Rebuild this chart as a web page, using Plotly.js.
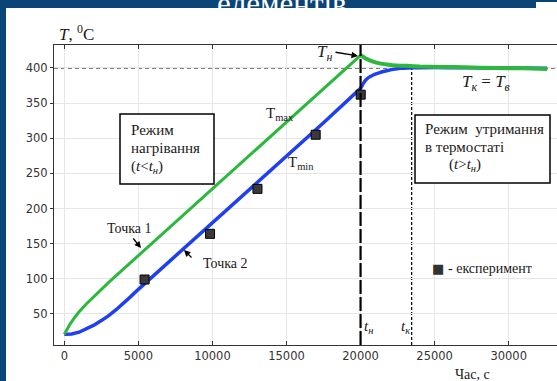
<!DOCTYPE html>
<html>
<head>
<meta charset="utf-8">
<script src="https://cdn.plot.ly/plotly-3.0.1.min.js"></script>
<style>
html,body{margin:0;padding:0;background:#0b4477;}
#chart{width:557px;height:381px;}
</style>
</head>
<body>
<div id="chart"></div>
<script>
// ---- data ----
const tHeat = [0, 200, 400, 700, 1000, 1500, 2000, 2500, 3000, 3500, 4000, 5000, 7500, 10000, 12500, 15000, 17500, 20000];
const tMaxHeat = [21, 29, 36, 45, 53, 64.5, 75, 85, 95, 104.5, 114, 133, 180.5, 228, 275.5, 323, 370.5, 418];
const tBlueHeat = [0, 500, 1000, 1500, 2000, 2500, 3000, 3500, 4000, 4500, 5000, 5500, 7500, 10000, 12500, 15000, 17500, 20000];
const tMinHeat = [21, 21.5, 24, 28.5, 34, 40.5, 47.5, 56, 65, 75, 85, 94.5, 132, 179, 226, 274, 322, 371];
const tHoldMax = [20000, 20200, 20400, 20850, 21300, 21770, 22400, 23100, 24000, 25400, 27000, 29000, 31000, 32600];
const tMaxHold = [418, 415.5, 413, 409, 406.5, 405, 403.5, 403, 402, 401.5, 401, 400, 399.5, 398.5];
const tHoldMin = [20000, 20200, 20400, 20850, 21300, 21770, 22200, 22670, 23200, 24000, 26000, 29000, 32600];
const tMinHold = [371, 378.5, 384, 390, 393.5, 396, 398, 399.5, 400, 400.5, 400.5, 400, 399.5];
const expT = [5420, 9840, 13040, 16970, 20010];
const expTemp = [99, 164, 228, 305, 362];
const tN = 20000;      // end of heating
const tK = 23450;      // end of transient
const T_target = 400;  // thermostat temperature
const xTicks = [0, 5000, 10000, 15000, 20000, 25000, 30000];
const yTicks = [50, 100, 150, 200, 250, 300, 350, 400];

// ---- geometry helpers (pixel -> paper) ----
const L = 54, T = 45, W = 503, H = 300;
const px = x => (x - L) / W;
const py = y => (T + H - y) / H;

const serif = 'Liberation Serif, Times New Roman, serif';
const sans = 'DejaVu Sans, sans-serif';
const blue = '#1f3ff0';
const green = '#2db83d';

const traces = [
  {x: tBlueHeat, y: tMinHeat, mode: 'lines', line: {color: blue, width: 3.5}, hoverinfo: 'skip'},
  {x: tHoldMin, y: tMinHold, mode: 'lines', line: {color: blue, width: 3.5, shape: 'spline', smoothing: 0.5}, hoverinfo: 'skip'},
  {x: tHeat, y: tMaxHeat, mode: 'lines', line: {color: green, width: 3}, hoverinfo: 'skip'},
  {x: tHoldMax, y: tMaxHold, mode: 'lines', line: {color: green, width: 4, shape: 'spline', smoothing: 0.5}, hoverinfo: 'skip'},
  {x: expT, y: expTemp, mode: 'markers', marker: {symbol: 'square', size: 9, color: '#3a3a3a', line: {color: '#000', width: 1}}, hoverinfo: 'skip'}
];

const ann = [];
function txt(text, x, y, size, opts) {
  ann.push(Object.assign({xref: 'paper', yref: 'paper', x: px(x), y: py(y), text: text, showarrow: false,
    font: {family: serif, size: size, color: '#1a1a1a'}, xanchor: 'left', yanchor: 'middle'}, opts || {}));
}
// axis titles
txt('<i>T</i>, <sup>0</sup>C', 57, 33, 17);
txt('Час, с', 453, 374, 14);
// page title fragment on the blue band
txt('елементів', 282, 3, 31, {xanchor: 'center', font: {family: serif, size: 31, color: '#ffffff'}});
// boxes texts
txt('Режим', 129, 130, 15);
txt('нагрівання', 129, 148, 15);
txt('(<i>t</i>&lt;<i>t</i><sub><i>н</i></sub>)', 129, 167, 15);
txt('Режим  утримання', 423, 129, 15);
txt('в термостаті', 423, 147, 15);
txt('(<i>t</i>&gt;<i>t</i><sub><i>н</i></sub>)', 447, 165, 15);
// curve labels
txt('T<sub>max</sub>', 264, 114, 15);
txt('T<sub>min</sub>', 286, 163, 15);
txt('<i>T</i><sub><i>к</i></sub> = <i>T</i><sub><i>в</i></sub>', 460, 83, 17);
txt('<i>t</i><sub><i>н</i></sub>', 362, 327, 15);
txt('<i>t</i><sub><i>к</i></sub>', 399, 327, 15);
txt('Точка 1', 105, 228, 14);
txt('Точка 2', 201, 263, 14);
txt('- експеримент', 446, 268, 14);
ann.push({xref: 'paper', yref: 'paper', x: px(438), y: py(268), text: '■', showarrow: false,
  font: {family: sans, size: 13, color: '#333'}, xanchor: 'center', yanchor: 'middle'});
// arrows
function arrow(x0, y0, x1, y1) {
  ann.push({xref: 'paper', yref: 'paper', x: px(x1), y: py(y1), ax: x0 - x1, ay: y0 - y1, text: '',
    showarrow: true, arrowhead: 2, arrowsize: 1, arrowwidth: 1.3, arrowcolor: '#000'});
}
arrow(132, 237, 141, 248);
arrow(193, 259, 184, 250);
txt('<i>T</i><sub><i>н</i></sub>', 315, 53, 17);
arrow(334, 52, 358, 56);

const shapes = [
  // white slide area
  {type: 'rect', xref: 'paper', yref: 'paper', x0: px(6), x1: px(560), y0: py(384), y1: py(8), fillcolor: '#fff', line: {width: 0}, layer: 'below'},
  {type: 'rect', xref: 'paper', yref: 'paper', x0: px(536), x1: px(560), y0: py(9), y1: py(2), fillcolor: '#fff', line: {width: 0}, layer: 'below'},
  // reference lines
  {type: 'line', xref: 'x', yref: 'y', x0: -695, x1: 33300, y0: T_target, y1: T_target, line: {color: '#000', width: 1.2, dash: '4px,3px'}, layer: 'below'},
  {type: 'line', xref: 'x', yref: 'y', x0: tN, x1: tN, y0: 5.8, y1: 432.7, line: {color: '#000', width: 2.2, dash: '14px,3px'}, layer: 'above'},
  {type: 'line', xref: 'x', yref: 'y', x0: tK, x1: tK, y0: 5.8, y1: T_target, line: {color: '#000', width: 1.2, dash: '3px,2px'}, layer: 'below'},
  // text boxes
  {type: 'rect', xref: 'paper', yref: 'paper', x0: px(120), x1: px(214), y0: py(184), y1: py(114), fillcolor: '#fff', line: {color: '#000', width: 1.5}, layer: 'above'},
  {type: 'rect', xref: 'paper', yref: 'paper', x0: px(415), x1: px(550), y0: py(183), y1: py(115), fillcolor: '#fff', line: {color: '#000', width: 1.5}, layer: 'above'}
];

const layout = {
  width: 557, height: 381,
  margin: {l: L, r: 557 - L - W, t: T, b: 381 - T - H},
  paper_bgcolor: '#0b4477',
  plot_bgcolor: '#ffffff',
  showlegend: false,
  xaxis: {range: [-695, 33261], tickvals: xTicks, ticktext: xTicks.map(String), showgrid: true, gridcolor: '#e6e6e6',
    zeroline: false, showline: true, linecolor: '#333', linewidth: 1, mirror: 'ticks', ticks: 'inside', ticklen: 4,
    tickcolor: '#333', tickfont: {family: sans, size: 11.5, color: '#333'}},
  yaxis: {range: [5.8, 432.7], tickvals: yTicks, ticktext: yTicks.map(String), showgrid: true, gridcolor: '#e6e6e6',
    zeroline: false, showline: true, linecolor: '#333', linewidth: 1, mirror: true, ticks: 'outside', ticklen: 3,
    tickcolor: '#333', tickfont: {family: sans, size: 11.5, color: '#333'}},
  shapes: shapes,
  annotations: ann
};

Plotly.newPlot('chart', traces, layout, {displayModeBar: false, staticPlot: true});
</script>
</body>
</html>
